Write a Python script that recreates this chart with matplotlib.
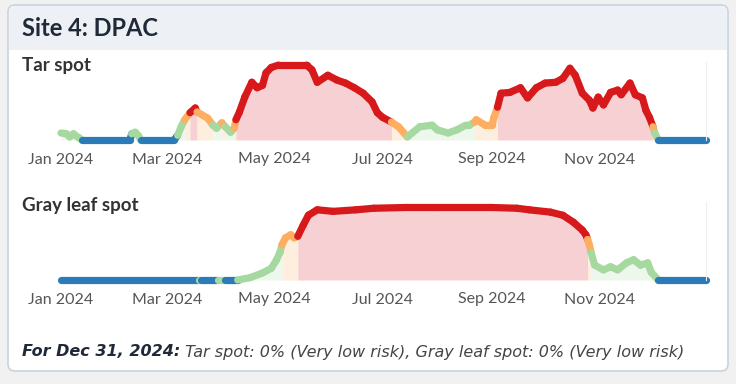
import numpy as np
import pandas as pd
import matplotlib
matplotlib.use('Agg')
import matplotlib.pyplot as plt
import matplotlib.dates as mdates
from matplotlib.patches import FancyBboxPatch, Rectangle

plt.rcParams['font.family'] = ['Lato', 'DejaVu Sans']

# risk class per point: b = very low, g = low, o = moderate, r = high
tar_dates = ['2024-01-01', '2024-01-04', '2024-01-06', '2024-01-08', '2024-01-11', '2024-01-13',
             '2024-02-09', '2024-02-10', '2024-02-12', '2024-02-14', '2024-02-15',
             '2024-03-05', '2024-03-07', '2024-03-09', '2024-03-11', '2024-03-14', '2024-03-17',
             '2024-03-18', '2024-03-21', '2024-03-24', '2024-03-27', '2024-03-29', '2024-04-01',
             '2024-04-03', '2024-04-06', '2024-04-08', '2024-04-09', '2024-04-11', '2024-04-14',
             '2024-04-18', '2024-04-21', '2024-04-24', '2024-04-26', '2024-04-29', '2024-05-03',
             '2024-05-19', '2024-05-22', '2024-05-25', '2024-05-31', '2024-06-05', '2024-06-10',
             '2024-06-15', '2024-06-20', '2024-06-25', '2024-06-28', '2024-07-01', '2024-07-06',
             '2024-07-10', '2024-07-15', '2024-07-22', '2024-07-29', '2024-08-01', '2024-08-07',
             '2024-08-12', '2024-08-17', '2024-08-19', '2024-08-22', '2024-08-23', '2024-08-28',
             '2024-09-01', '2024-09-02', '2024-09-04', '2024-09-06', '2024-09-11', '2024-09-17',
             '2024-09-21', '2024-09-26', '2024-10-01', '2024-10-07', '2024-10-11', '2024-10-15',
             '2024-10-18', '2024-10-22', '2024-10-26', '2024-10-28', '2024-10-31', '2024-11-03',
             '2024-11-07', '2024-11-11', '2024-11-13', '2024-11-18', '2024-11-21', '2024-11-25',
             '2024-11-27', '2024-11-29', '2024-12-01', '2024-12-02', '2024-12-04', '2024-12-31']
tar_vals = [9, 8, 4, 8, 3, 0,
            0, 8, 10, 5, 0,
            0, 6, 17, 26, 35, 41,
            36, 32, 28, 19, 15, 22,
            17, 10, 15, 26, 36, 55,
            74, 67, 70, 86, 93, 96,
            96, 90, 74, 83, 77, 73,
            67, 60, 49, 35, 29, 23,
            17, 4, 17, 19, 13, 9,
            13, 19, 19, 23, 26, 19,
            19, 29, 42, 60, 61, 67,
            54, 67, 73, 74, 79, 92,
            83, 60, 51, 41, 55, 45,
            61, 64, 58, 73, 58, 54,
            38, 29, 17, 9, 0, 0]
tar_risk = list('gggggb' 'bgggb' 'bggorr' 'oooggo' 'ggorrr' 'rrrrrr' 'rrrrrr' 'rrrrro'
                'oggggg' 'gggoooo' 'orrrrr' 'rrrrrr' 'rrrrrr' 'rrrrrr' 'rogbb')

gls_dates = ['2024-01-01', '2024-03-18', '2024-03-19', '2024-03-20', '2024-03-28', '2024-03-30',
             '2024-04-01', '2024-04-03', '2024-04-07', '2024-04-10', '2024-04-17', '2024-04-24',
             '2024-04-29', '2024-05-02', '2024-05-04', '2024-05-05', '2024-05-07', '2024-05-10',
             '2024-05-12', '2024-05-14', '2024-05-17', '2024-05-20', '2024-05-25', '2024-06-03',
             '2024-06-16', '2024-06-26', '2024-07-15', '2024-08-02', '2024-08-31', '2024-09-15',
             '2024-09-22', '2024-10-04', '2024-10-11', '2024-10-17', '2024-10-22', '2024-10-24',
             '2024-10-25', '2024-10-26', '2024-10-27', '2024-10-29', '2024-11-03', '2024-11-07',
             '2024-11-11', '2024-11-16', '2024-11-20', '2024-11-24', '2024-11-28', '2024-11-30',
             '2024-12-04', '2024-12-31']
gls_vals = [0, 0, 0, 0, 0, 0,
            0, 0, 0, 0, 3, 9,
            15, 26, 36, 45, 54, 58,
            54, 56, 70, 83, 90, 88,
            90, 92, 93, 93, 93, 92,
            90, 87, 83, 74, 64, 58,
            52, 45, 35, 19, 13, 17,
            13, 22, 26, 19, 22, 10,
            0, 0]
gls_risk = list('bbgbbg' 'gbbggg' 'gggooo' 'orrrrr' 'rrrrrr' 'rrrrrr' 'oogggg' 'gggggg' 'bb')

tick_dates = ['2024-01-01', '2024-03-01', '2024-05-01', '2024-07-01', '2024-09-01', '2024-11-01']

line_col = {'b': '#2b7bb9', 'g': '#a6d9a0', 'o': '#fdae61', 'r': '#d7191c'}
fill_col = {'b': 'none', 'g': '#eef7ec', 'o': '#fdeedd', 'r': '#f6d0d3'}

W, H = 736, 384
fig = plt.figure(figsize=(W / 100, H / 100), dpi=100)
fig.patch.set_facecolor('#f1f1f1')

# card background, in pixel coords
bg = fig.add_axes([0, 0, 1, 1])
bg.set_xlim(0, W)
bg.set_ylim(H, 0)
bg.axis('off')
bg.add_patch(FancyBboxPatch((8, 5), 720, 366, boxstyle='round,pad=0,rounding_size=7',
                            fc='white', ec='#c9d4df', lw=1.2))
bg.add_patch(FancyBboxPatch((9, 6), 718, 44, boxstyle='round,pad=0,rounding_size=6',
                            fc='#edf1f5', ec='none'))
bg.add_patch(Rectangle((9, 40), 718, 10, fc='#edf1f5', ec='none'))
bg.text(22, 28, 'Site 4: DPAC', fontsize=17, fontweight='bold', color='#1f2937', va='center')
bg.text(22, 66, 'Tar spot', fontsize=13.5, fontweight='bold', color='#333333', va='center')
bg.text(22, 206, 'Gray leaf spot', fontsize=13.5, fontweight='bold', color='#333333', va='center')
t1 = bg.text(22, 352, 'For Dec 31, 2024:', fontsize=11.5, fontweight='bold', style='italic',
             color='#1f2937', va='center', family='DejaVu Sans')
bg.annotate(' Tar spot: 0% (Very low risk), Gray leaf spot: 0% (Very low risk)',
            xy=(1, 0), xycoords=t1, va='bottom', fontsize=11.5, style='italic',
            color='#444444', family='DejaVu Sans')


def risk_chart(top_px, dates, vals, risk):
    base_px = top_px + 78
    ax = fig.add_axes([61 / W, (H - base_px) / H, 645 / W, 78 / H])
    ax.patch.set_alpha(0)
    x = mdates.date2num(pd.to_datetime(dates))
    v = np.array(vals, dtype=float)
    # fill each run of same risk class in one piece
    a = 0
    for i in range(1, len(x)):
        if i == len(x) - 1 or risk[i] != risk[a]:
            ax.fill_between(x[a:i + 1], v[a:i + 1], 0, color=fill_col[risk[a]], lw=0)
            a = i
    for i in range(len(x) - 1):
        ax.plot(x[i:i + 2], v[i:i + 2], color=line_col[risk[i]], lw=5.2,
                solid_capstyle='round', clip_on=False)
    ax.set_xlim(mdates.date2num(pd.Timestamp('2024-01-01')), mdates.date2num(pd.Timestamp('2024-12-31')))
    ax.set_ylim(0, 100)
    ax.set_yticks([])
    ax.set_xticks(mdates.date2num(pd.to_datetime(tick_dates)))
    ax.xaxis.set_major_formatter(mdates.DateFormatter('%b %Y'))
    ax.tick_params(axis='x', length=0, pad=9, labelsize=11.5, labelcolor='#555555')
    for s in ['top', 'left', 'bottom']:
        ax.spines[s].set_visible(False)
    ax.spines['right'].set_color('#eeeeee')
    return ax


risk_chart(62, tar_dates, tar_vals, tar_risk)
risk_chart(202, gls_dates, gls_vals, gls_risk)

fig.savefig('out.png', dpi=100, facecolor=fig.get_facecolor())
